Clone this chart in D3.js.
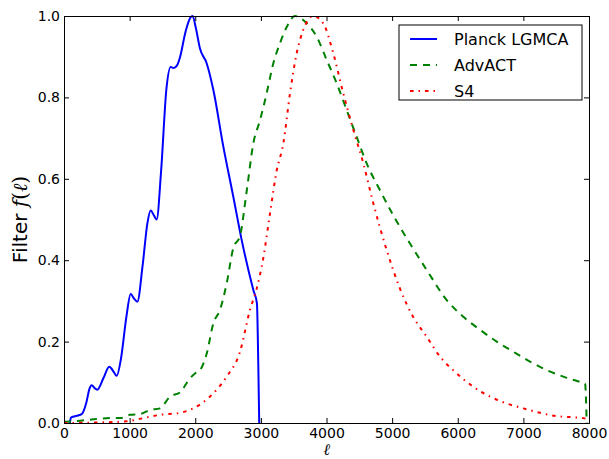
<!DOCTYPE html>
<html>
<head>
<meta charset="utf-8">
<script src="https://cdn.jsdelivr.net/npm/d3@7"></script>
<style>
  body { margin: 0; background: #fff; }
  text { font-family: "DejaVu Sans", sans-serif; }
</style>
</head>
<body>
<div id="container"></div>
<script>
// filter curves

const planckL = [90, 105, 150, 270, 340, 390, 422, 470, 508, 600, 690, 760, 802, 870, 950, 1016, 1070, 1117, 1200, 1270, 1321, 1370, 1412, 1480, 1560, 1626, 1670, 1720, 1770, 1850, 1930, 1960, 2010, 2072, 2174, 2276, 2428, 2580, 2707, 2885, 2940, 2960, 2975]
const planckF = [0, 0.013, 0.016, 0.022, 0.05, 0.085, 0.093, 0.085, 0.082, 0.11, 0.138, 0.125, 0.116, 0.16, 0.26, 0.317, 0.305, 0.298, 0.39, 0.49, 0.522, 0.51, 0.5, 0.62, 0.82, 0.875, 0.872, 0.878, 0.9, 0.96, 0.997, 1.0, 0.97, 0.92, 0.884, 0.818, 0.679, 0.556, 0.45, 0.327, 0.294, 0.15, 0]

const advactL = [0, 200, 447, 700, 853, 1006, 1158, 1310, 1463, 1615, 1768, 1920, 2022, 2072, 2174, 2276, 2377, 2479, 2580, 2682, 2784, 2885, 2987, 3088, 3190, 3291, 3400, 3520, 3698, 3850, 4003, 4155, 4307, 4460, 4612, 4815, 5018, 5272, 5527, 5832, 6085, 6339, 6593, 6847, 7101, 7355, 7609, 7863, 7940, 7965]
const advactF = [0.003, 0.005, 0.009, 0.012, 0.012, 0.02, 0.022, 0.032, 0.036, 0.065, 0.075, 0.11, 0.125, 0.13, 0.17, 0.245, 0.278, 0.343, 0.43, 0.46, 0.57, 0.687, 0.744, 0.81, 0.884, 0.933, 0.975, 1.0, 0.982, 0.949, 0.892, 0.835, 0.769, 0.703, 0.638, 0.572, 0.51, 0.441, 0.376, 0.302, 0.261, 0.229, 0.2, 0.175, 0.151, 0.13, 0.114, 0.101, 0.097, 0]

const s4L = [0, 447, 955, 1210, 1463, 1768, 1970, 2225, 2479, 2682, 2834, 2936, 3037, 3139, 3241, 3342, 3444, 3545, 3646, 3800, 3950, 4104, 4256, 4409, 4561, 4713, 4917, 5120, 5323, 5527, 5730, 5984, 6237, 6491, 6745, 7000, 7253, 7507, 7761, 7913, 7960]
const s4F = [0, 0.001, 0.004, 0.012, 0.02, 0.025, 0.036, 0.065, 0.114, 0.175, 0.278, 0.33, 0.405, 0.515, 0.62, 0.687, 0.81, 0.908, 0.966, 1.0, 0.982, 0.908, 0.81, 0.72, 0.638, 0.54, 0.425, 0.33, 0.26, 0.212, 0.163, 0.122, 0.089, 0.065, 0.048, 0.036, 0.025, 0.017, 0.014, 0.012, 0.01]

const seriesNames = ["Planck LGMCA", "AdvACT", "S4"]
const xTicks = [0, 1000, 2000, 3000, 4000, 5000, 6000, 7000, 8000]
const yTicks = [0, 0.2, 0.4, 0.6, 0.8, 1.0]

const width = 609,
    height = 459
const padding = { top: 16, right: 20, bottom: 36, left: 64 }

const svg = d3.select("#container").append("svg")
    .attr("width", width)
    .attr("height", height)

const x = d3.scaleLinear().domain([0, 8000]).range([padding.left, width - padding.right])
const y = d3.scaleLinear().domain([0, 1]).range([height - padding.bottom, padding.top])

const zip = (ls, fs) => ls.map((l, i) => [l, fs[i]])
const series = [
    { name: seriesNames[0], pts: zip(planckL, planckF), color: "#0000ff", dash: null, w: 2 },
    { name: seriesNames[1], pts: zip(advactL, advactF), color: "#008000", dash: "7,6", w: 2 },
    { name: seriesNames[2], pts: zip(s4L, s4F), color: "#ff0000", dash: "3.5,5,1.5,5", w: 2 },
]

const line = d3.line()
    .x(d => x(d[0]))
    .y(d => y(d[1]))
    .curve(d3.curveMonotoneX)

svg.append("g").attr("id", "lines")
    .selectAll("path")
    .data(series)
    .enter()
    .append("path")
    .attr("d", d => line(d.pts))
    .attr("fill", "none")
    .attr("stroke", d => d.color)
    .attr("stroke-width", d => d.w)
    .attr("stroke-dasharray", d => d.dash)

// axes, ticks pointing inward on all four sides
const tickLen = 5
const axes = svg.append("g").attr("id", "axes")

axes.append("g")
    .attr("transform", `translate(0,${y(0)})`)
    .call(d3.axisBottom(x).tickValues(xTicks).tickSize(-tickLen).tickPadding(5).tickFormat(d3.format("d")))
axes.append("g")
    .attr("transform", `translate(0,${y(1)})`)
    .call(d3.axisTop(x).tickValues(xTicks).tickSize(-tickLen).tickFormat(""))
axes.append("g")
    .attr("transform", `translate(${x(0)},0)`)
    .call(d3.axisLeft(y).tickValues(yTicks).tickSize(-tickLen).tickPadding(4).tickFormat(d3.format(".1f")))
axes.append("g")
    .attr("transform", `translate(${x(8000)},0)`)
    .call(d3.axisRight(y).tickValues(yTicks).tickSize(-tickLen).tickFormat(""))

axes.selectAll(".domain").attr("stroke", "#000").attr("stroke-width", 1)
axes.selectAll(".tick line").attr("stroke", "#000")
axes.selectAll(".tick text")
    .style("font-family", "DejaVu Sans")
    .style("font-size", "14px")
    .attr("fill", "#000")

// axis labels
svg.append("text")
    .attr("x", (x(0) + x(8000)) / 2)
    .attr("y", 455)
    .attr("text-anchor", "middle")
    .style("font-family", "DejaVu Serif")
    .style("font-style", "italic")
    .style("font-size", "16px")
    .text("ℓ")

const ylab = svg.append("text")
    .attr("transform", `translate(27,${(y(0) + y(1)) / 2}) rotate(-90)`)
    .attr("text-anchor", "middle")
    .style("font-size", "20px")
ylab.append("tspan").text("Filter ")
ylab.append("tspan").style("font-family", "DejaVu Serif").style("font-style", "italic").text("f")
ylab.append("tspan").style("font-family", "DejaVu Serif").text("(")
ylab.append("tspan").style("font-family", "DejaVu Serif").style("font-style", "italic").text("ℓ")
ylab.append("tspan").style("font-family", "DejaVu Serif").text(")")

// legend
const legend = svg.append("g").attr("id", "legend")
    .attr("transform", "translate(399,25)")
legend.append("rect")
    .attr("width", 183)
    .attr("height", 75)
    .attr("fill", "#fff")
    .attr("stroke", "#000")
    .attr("stroke-width", 1)
const rows = legend.selectAll("g.row")
    .data(series)
    .enter()
    .append("g")
    .attr("class", "row")
    .attr("transform", (d, i) => `translate(0,${14 + i * 26})`)
rows.append("line")
    .attr("x1", 11).attr("x2", 38)
    .attr("stroke", d => d.color)
    .attr("stroke-width", d => d.w)
    .attr("stroke-dasharray", d => d.dash)
rows.append("text")
    .attr("x", 55)
    .attr("dy", "0.36em")
    .style("font-size", "16px")
    .text(d => d.name)
</script>
</body>
</html>
